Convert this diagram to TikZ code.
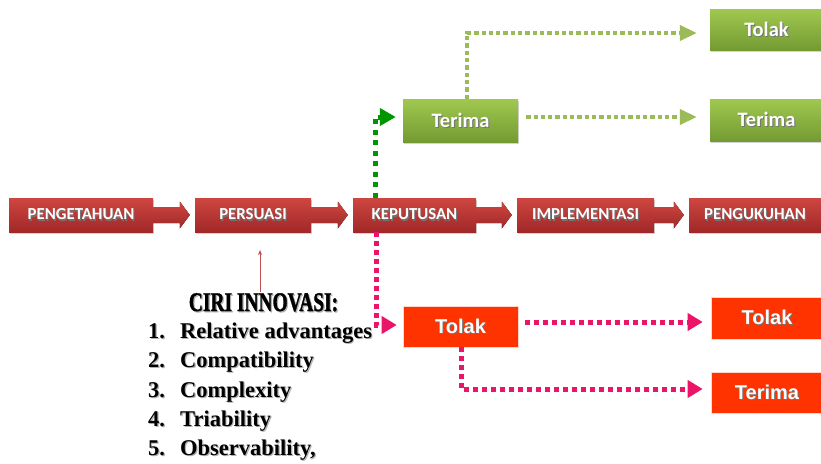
\documentclass[tikz,border=0pt]{standalone}
\usepackage{fontspec}
\setmainfont{Liberation Serif}
\newfontfamily\headfont[FakeStretch=0.72,FakeBold=1.2]{Liberation Serif}
\newfontfamily\boxfont{Carlito}
\newfontfamily\sansbold{Liberation Sans}
\usetikzlibrary{arrows.meta,calc,shadows}

\definecolor{stageTop}{RGB}{206,70,64}
\definecolor{stageBot}{RGB}{160,40,40}
\definecolor{okTop}{RGB}{160,200,80}
\definecolor{okBot}{RGB}{115,155,50}
\definecolor{noFill}{RGB}{255,51,0}
\definecolor{pinkLine}{RGB}{236,20,105}
\definecolor{lightGreen}{RGB}{155,187,89}
\definecolor{darkGreen}{RGB}{0,150,0}
\definecolor{thinRed}{RGB}{192,80,77}

% white label with a soft dark offset copy behind it
\newcommand\shadowed[1]{\makebox[0pt][l]{\hspace{1pt}\raisebox{-1.2pt}{\textcolor{black!55}{#1}}}#1}
% dark label with a light grey offset copy behind it
\newcommand\greyback[1]{\makebox[0pt][l]{\hspace{1.2pt}\raisebox{-1.2pt}{\textcolor{black!30}{#1}}}#1}

\begin{document}
\begin{tikzpicture}[x=1pt,y=-1pt,
  boxshadow/.style={drop shadow={shadow xshift=1pt,shadow yshift=-2pt,opacity=0.35}},
  stage/.style={rectangle,inner sep=0pt,minimum height=34pt,top color=stageTop,bottom color=stageBot,
    text=white,font=\boxfont\bfseries\fontsize{16.8}{16.8}\selectfont,boxshadow},
  okbox/.style={rectangle,inner sep=0pt,top color=okTop,bottom color=okBot,
    text=white,font=\boxfont\bfseries\fontsize{20.5}{20.5}\selectfont,boxshadow},
  nobox/.style={rectangle,inner sep=0pt,fill=noFill,draw=white!80!noFill,line width=0.6pt,
    text=white,font=\sansbold\bfseries\fontsize{20}{20}\selectfont},
  flow/.style={top color=stageTop,bottom color=stageBot},
  dotpink/.style={draw=pinkLine,line width=5pt,dash pattern=on 5pt off 4pt,
    -{Triangle[length=15pt,width=17pt]}},
  dotlight/.style={draw=lightGreen,line width=4pt,dash pattern=on 4.3pt off 3pt,
    -{Triangle[length=17pt,width=15pt]}},
  dotdark/.style={draw=darkGreen,line width=5pt,dash pattern=on 5pt off 5.5pt,
    -{Triangle[length=16pt,width=17pt]}},
  pointer/.style={draw=thinRed,line width=0.8pt,-{Stealth[length=5pt,width=4pt]}},
  listtext/.style={font=\bfseries\fontsize{22.5}{22.5}\selectfont,inner sep=0pt,anchor=base west}
]
\useasboundingbox (0,0) rectangle (821,463);

% main chain of stages
\node[stage,minimum width=144pt] (peng) at (81,215) {\shadowed{PENGETAHUAN}};
\node[stage,minimum width=116pt] (pers) at (253,215) {\shadowed{PERSUASI}};
\node[stage,minimum width=123pt] (kep)  at (414.5,215) {\shadowed{KEPUTUSAN}};
\node[stage,minimum width=137pt] (impl) at (585.5,215) {\shadowed{IMPLEMENTASI}};
\node[stage,minimum width=132pt] (kuh)  at (755,215) {\shadowed{PENGUKUHAN}};

% block arrows between stages
\foreach \a/\b in {peng/pers,pers/kep,kep/impl,impl/kuh}{
  \fill[flow] ($(\a.east)+(0,-8)$) -- ($(\b.west)+(-15,-8)$) -- ($(\b.west)+(-15,-13.5)$)
    -- ($(\b.west)+(-5,0)$) -- ($(\b.west)+(-15,13.5)$) -- ($(\b.west)+(-15,8)$)
    -- ($(\a.east)+(0,8)$) -- cycle;
}

% accept branch
\node[okbox,minimum width=115pt,minimum height=43pt] (terG) at (460.5,120.5) {\shadowed{Terima}};
\node[okbox,minimum width=113pt,minimum height=41pt] (tolG) at (766.5,29.5) {\shadowed{Tolak}};
\node[okbox,minimum width=113pt,minimum height=42pt] (terG2) at (766.5,120) {\shadowed{Terima}};

% reject branch
\node[nobox,minimum width=115pt,minimum height=41pt] (tolR) at (460.5,326.5) {\shadowed{Tolak}};
\node[nobox,minimum width=112pt,minimum height=42pt] (tolR2) at (767,318) {\shadowed{Tolak}};
\node[nobox,minimum width=112pt,minimum height=41pt] (terR2) at (767,392.5) {\shadowed{Terima}};

% dotted decision paths
\draw[dotdark] ($(kep.north)+(-39.5,0)$) |- ($(terG.west)+(-7,-3.5)$);
\draw[dotlight] ($(terG.north)+(6.5,0)$) |- ($(tolG.west)+(-13,3.5)$);
\draw[dotlight] ($(terG.east)+(8,-3.5)$) -- ($(terG2.west)+(-13,-3)$);
\draw[dotpink] ($(kep.south)+(-38.5,0)$) |- ($(tolR.west)+(-6,-1.5)$);
\draw[dotpink] ($(tolR.east)+(7,-4.5)$) -- ($(tolR2.west)+(-8,4)$);
\draw[dotpink] ($(tolR.south)+(0.5,0)$) |- ($(terR2.west)+(-8,-3.5)$);

% characteristics of the innovation
\node[font=\headfont\bfseries\fontsize{27}{27}\selectfont,inner sep=0pt,anchor=base] (ciri) at (263.5,311) {\greyback{CIRI INNOVASI:}};
\coordinate (ptr) at (260,250);
\draw[pointer] (ciri.north -| ptr) ++(0,-1) -- (ptr);

\node[listtext] (n1) at (148,338) {\greyback{1.}};
\node[listtext] (t1) at (180,338) {\greyback{Relative advantages}};
\node[listtext] (n2) at (148,367.5) {\greyback{2.}};
\node[listtext] (t2) at (180,367.5) {\greyback{Compatibility}};
\node[listtext] (n3) at (148,397) {\greyback{3.}};
\node[listtext] (t3) at (180,397) {\greyback{Complexity}};
\node[listtext] (n4) at (148,426.5) {\greyback{4.}};
\node[listtext] (t4) at (180,426.5) {\greyback{Triability}};
\node[listtext] (n5) at (148,455.5) {\greyback{5.}};
\node[listtext] (t5) at (180,455.5) {\greyback{Observability,}};
\end{tikzpicture}
\end{document}
